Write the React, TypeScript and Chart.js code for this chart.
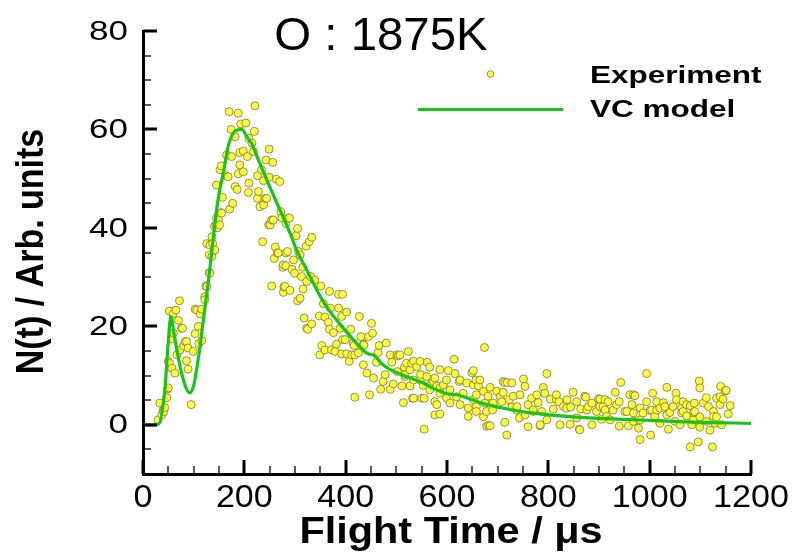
import React, { useEffect, useRef } from "react";
import { Chart, registerables } from "chart.js";

Chart.register(...registerables);

// ---------- data ----------
const TITLE = "O : 1875K";
const X_TITLE = "Flight Time / μs";
const Y_TITLE = "N(t) / Arb. units";
const LEGEND_EXP = "Experiment";
const LEGEND_MODEL = "VC model";

const X_TICKS = [0, 200, 400, 600, 800, 1000, 1200];
const Y_TICKS = [0, 20, 40, 60, 80];

// VC model curve (time in µs, N(t))
const MODEL_T = [0, 20, 30, 43, 50, 55, 62, 75, 85, 93, 100, 110, 120, 130, 147, 160, 168, 180, 195, 205, 215, 231, 250, 270, 290, 303, 323, 343, 362, 389, 415, 441, 448, 455, 470, 488, 520, 553, 570, 586, 600, 619, 630, 665, 705, 740, 777, 836, 900, 1000, 1100, 1200];
const MODEL_N = [0, 0, 0.1, 7, 17, 22, 18, 11, 7.5, 6.5, 8, 14, 22, 30, 45, 52, 56.5, 59.5, 60, 58.5, 57, 53, 48.4, 43.7, 39, 35.5, 31.5, 27.4, 24, 20.4, 17.3, 14.6, 14.3, 14.2, 12.5, 11.2, 9.8, 8.5, 7.5, 6.8, 6.3, 6.1, 5.8, 4.5, 3.5, 2.8, 2.3, 1.7, 1.3, 0.9, 0.5, 0.3];

// Experimental points [time, N(t)]
const EXP_RISE: [number, number][] = [
  [30, 1.0], [33, 4.4], [37, 2.0], [40, 3.0], [41, 2.7], [43, 3.5], [47, 5.5], [49, 7.3], [50, 7.5], [50, 12.9],
  [52, 12.5], [52, 23.1], [57, 17.4], [57, 11.5], [59, 22.5], [60, 18.6], [63, 10.5], [65, 23.3], [67, 14.2], [70, 21.2],
  [72, 25.2], [73, 15.2], [76, 19.6], [78, 19.6], [80, 16.0], [83, 16.9], [86, 16.9], [86, 13.0], [89, 15.6], [89, 11.3],
  [95, 4.1], [99, 14.9], [103, 23.5], [103, 18.5], [106, 23.3], [109, 20], [110, 16.5], [113, 22.5], [116, 23.5], [116, 17.1],
  [122, 26], [122, 25.4], [124, 28.2], [126, 28.1], [126, 36.8], [131, 34.5], [131, 30.9], [132, 30.8], [132, 36.5], [136, 34.2],
  [136, 38.2], [137.5, 36.8], [141, 40.3], [142, 35.5], [144, 40.6], [145, 42], [145, 48.7], [147, 40], [149, 41.6], [151, 40.6],
  [152, 51.8], [154, 43.1], [155, 43], [155, 52.6], [157, 46.2], [164, 50.6], [165, 54.8], [168, 50.4],
];
const EXP_PEAK: [number, number][] = [
  [170, 63.6], [171, 43.8], [174, 60], [175, 54.5], [177, 45], [182, 58.5], [182, 48.4], [186, 47.8], [188, 63.3], [188, 51],
  [191, 55.3], [191, 52.8], [193, 61.1], [198, 55.6], [198, 51.4], [203, 61.3], [206, 54.5], [208, 47.2], [209, 58.2], [209, 49.1],
  [215, 57.2], [218, 55.5], [220, 59.6], [221, 64.8], [226, 50.6], [226, 46], [228, 47.4], [231, 44.3], [234, 51.8], [236, 37.2],
  [238, 49.6], [238, 44.7], [241, 46], [243, 53.8], [244, 46], [248, 40.6], [249, 56], [249, 50.3], [251, 40.6], [254, 41.6],
  [254, 28.2], [256, 53.3], [257, 41.6], [259, 33.8], [261, 36.1], [263, 49.9], [265, 34.9], [267, 34.9], [270, 49.4], [272, 43.3],
  [274, 42], [276, 32], [277, 32.5], [277, 26.9], [278, 28], [280, 28.1], [282, 34.9], [282, 40.9], [282, 32.3], [285, 35.2],
  [287, 42], [289, 42], [290, 27.3], [294, 31.6], [297, 33.5], [299, 30.8], [302, 38.4], [305, 39.9], [305, 25.2], [307, 35.2],
  [310, 34.5], [310, 25.7], [313, 30.1], [315, 32], [316, 27.6], [318, 21.7], [322, 36.3], [323, 29.1], [323, 19.6], [325, 19.4],
  [328, 37.2], [331, 30.1], [333, 38.1], [333, 20.5], [339, 29.4],
];
const EXP_DECAY: [number, number][] = [
  [348, 22.1], [349, 14.2], [351, 28.2], [353, 16.1], [356, 24.6], [359, 21.9], [359, 15.2], [366, 20.8], [368, 27.1], [368, 19.4],
  [370, 23.7], [372, 15.2], [376, 18.7], [379, 14.9], [382, 16.4], [386, 26.5], [386, 23.7], [389, 19.6], [392, 22], [392, 14.4],
  [394, 26.5], [394, 17.3], [399, 17.3], [402, 22.9], [402, 14.4], [407, 12.9], [410, 19.4], [412, 14.2], [415, 16.6], [417, 16.1],
  [418, 14.2], [418, 5.6], [425, 14.6], [427, 22], [430, 17.9], [435, 16.4], [435, 12.2], [436, 16.2], [442, 10.5], [445, 17.9],
  [447, 6.1], [451, 20.6], [453, 18.6], [455, 9.5], [461, 12.7], [464, 14.7], [466, 16.1], [469, 7.2], [474, 8.8], [478, 10.2],
  [480, 16.6], [488, 14.2], [488, 7.2], [491, 12.7], [494, 8.3], [501, 14.2], [502, 10.8], [504, 14], [507, 14.2], [511, 7.9],
  [514, 4.5], [516, 11.7], [517, 9.8], [517, 10.2], [520, 12.5], [524, 14.9], [527, 11.2], [527, 7.9], [530, 12.5], [532, 5.4],
  [534, 12.9], [534, 9.1], [534, 5.4], [540, 11.8], [547, 12.9], [547, 9.1], [548, 10.2], [550, 5.4], [553, 8], [555, 5.4],
  [555, -0.9], [560, 9.8], [561, 12.7], [566, 11.7], [566, 7.1], [570, 8.5], [573, 8.8], [576, 9.5], [576, 4.7], [576, 2.0],
  [580, 7.9], [580, 4.1], [586, 11.2], [586, 7.5], [586, 6.4], [586, 2.2], [593, 8.1], [599, 9.1], [599, 5.4], [603, 11],
  [606, 7.1], [606, 4.4], [614, 13.3], [616, 10.4], [619, 5.7], [624, 8.8], [626, 9.1], [626, 4.1], [632, 6.4], [639, 8.5],
  [642, 3.4], [642, 1.7], [649, 10.6], [652, 11], [652, 8.1], [652, 5.1], [657, 9.1], [658, 3.7], [658, 6.1], [658, 2.7],
  [662, 7.9], [665, 9.1], [672, 6.8], [672, 1.6], [674, 15.7], [675, 4.4], [678, -0.3], [678, 2.7], [681, 5.8], [682, -0.1],
  [685, 7.6], [685, -0.2], [690, 3], [691, 4.4], [698, 6.8],
];
const EXP_TAIL: [number, number][] = [
  [705, 5.7], [708, 4.7], [711, 8.8], [711, 6.6], [714, 8.6], [714, 0.5], [718, -2.1], [719, 8.6], [723, 5.1], [728, 8.5],
  [728, 3.6], [731, 5.8], [737, 3], [738, 3.7], [743, 1.4], [744, 6.1], [751, 9.3], [754, 7.8], [754, 2.0], [760, 4.1],
  [760, -0.4], [767, 5.4], [770, 2.7], [770, 3], [777, 6.1], [780, 4.5], [784, -0.2], [784, 0], [787, 2.7], [790, 7.6],
  [793, 6.4], [797, 10.4], [797, 1], [804, 5.2], [810, 3.2], [816, 5.1], [816, 6.1], [821, 4.7], [823, 0], [830, 3.7],
  [836, 3.4], [837, 5.1], [843, 0.1], [844, 3.6], [849, 6.6], [856, 1.4], [856, 4.7], [861, -0.9], [862, -1], [864, 3.2],
  [872, 5.8], [874, 5.6], [876, 3], [879, 3.7], [886, 4.4], [886, 0], [895, 2.7], [899, 5.3], [902, 5.2], [902, 3.7],
  [905, 1.1], [908, 3.7], [912, 3], [912, 5.1], [915, 1.7], [918, 4.7], [922, 1], [928, 3], [932, 6.6], [935, 4.1],
  [940, 4.7], [940, -0.3], [943, 8.6], [951, 2.7], [955, 2.7], [958, -0.2], [961, 6.1], [965, 4.1], [968, 6.1], [968, 2.4],
  [968, 0.7], [971, 5.9], [978, -0.7], [981, -3], [981, 1], [981, 3.4], [987, 2.4], [994, 10.4], [994, 4.7], [1001, 2.9],
  [1002, -2.1], [1004, 3], [1006, 6.4], [1010, 1.7], [1014, 4.7], [1014, 3], [1020, 0.3], [1020, 3.4], [1027, 4.5], [1030, 3.7],
  [1034, 7.6], [1034, 2], [1037, -0.9], [1040, 2.5], [1046, 3.7], [1050, 0.7], [1052, 6.4], [1053, 5.1], [1060, 0], [1063, 3.4],
  [1063, 2.4], [1066, 4.7], [1066, 2.7], [1073, 1.8], [1073, 4.1], [1080, 3.9], [1080, -4.5], [1083, 0], [1086, 1], [1087, 2.5],
  [1088, 4.4], [1089, 2.7], [1096, -3.5], [1098, 8.9], [1099, 7.5], [1099, 1.6], [1099, -0.5], [1106, 4.4], [1112, 5.5], [1112, 0.7],
  [1116, 3.7], [1119, -1.1], [1124, -4.5], [1126, 2.7], [1126, 1.7], [1129, 0.3], [1132, 5.4], [1132, 1.6], [1139, 5.7], [1139, 4.1],
  [1140, 7.8], [1142, 0], [1145, 5.2], [1149, 6.9], [1151, 7], [1155, 2.2], [1159, 3.9],
];

// ---------- styling ----------
const YELLOW = "#ffff3a";
const DOT_EDGE = "#77744a";
const GREEN = "#18c418";
const SANS = "'Liberation Sans', Arial, Helvetica, sans-serif";

function drawText(
  ctx: CanvasRenderingContext2D,
  text: string,
  x: number,
  y: number,
  font: string,
  o: { sx?: number; sy?: number; rot?: number; align?: CanvasTextAlign; baseline?: CanvasTextBaseline } = {}
) {
  ctx.save();
  ctx.translate(x, y);
  if (o.rot) ctx.rotate(o.rot);
  ctx.scale(o.sx ?? 1, o.sy ?? 1);
  ctx.font = font;
  ctx.fillStyle = "#000";
  ctx.textAlign = o.align ?? "left";
  ctx.textBaseline = o.baseline ?? "alphabetic";
  ctx.fillText(text, 0, 0);
  ctx.restore();
}

const decorPlugin = {
  id: "decor",
  afterDatasetsDraw(chart: any) {
    const ctx: CanvasRenderingContext2D = chart.ctx;
    const xs = chart.scales.x;
    const ys = chart.scales.y;
    const { left, bottom } = chart.chartArea;
    ctx.save();
    ctx.strokeStyle = "#000";
    for (let v = xs.min; v <= xs.max; v += 50) {
      const major = v % 200 === 0;
      const px = Math.round(xs.getPixelForValue(v));
      ctx.lineWidth = major ? 3 : 1.3;
      ctx.beginPath();
      ctx.moveTo(px, bottom);
      ctx.lineTo(px, bottom - (major ? 14 : 8));
      ctx.stroke();
    }
    for (let v = ys.min + 5; v <= ys.max; v += 5) {
      const major = v % 20 === 0;
      const py = Math.round(ys.getPixelForValue(v));
      ctx.lineWidth = major ? 3 : 1.3;
      ctx.beginPath();
      ctx.moveTo(left, py);
      ctx.lineTo(left + (major ? 14 : 8), py);
      ctx.stroke();
    }
    ctx.restore();
  },
  afterDraw(chart: any) {
    const ctx: CanvasRenderingContext2D = chart.ctx;
    const xs = chart.scales.x;
    const ys = chart.scales.y;
    const { left, right, top, bottom } = chart.chartArea;

    for (const v of Y_TICKS) {
      drawText(ctx, String(v), 128, ys.getPixelForValue(v) + 1, `28px ${SANS}`, { sx: 1.25, align: "right", baseline: "middle" });
    }
    for (const v of X_TICKS) {
      drawText(ctx, String(v), xs.getPixelForValue(v), 498, `31px ${SANS}`, { sx: 1.1, align: "center", baseline: "middle" });
    }
    drawText(ctx, X_TITLE, (left + right) / 2 + 4, 543, `bold 37px ${SANS}`, { sx: 1.12, align: "center" });
    drawText(ctx, Y_TITLE, 43, (top + bottom) / 2 - 1, `bold 34px ${SANS}`, { sy: 1.15, rot: -Math.PI / 2, align: "center" });
    drawText(ctx, TITLE, 381, 50, `46px ${SANS}`, { sx: 1.03, align: "center" });

    const expDs = chart.data.datasets[1];
    const modDs = chart.data.datasets[0];
    ctx.save();
    ctx.beginPath();
    ctx.arc(490.5, 74, 3.3, 0, Math.PI * 2);
    ctx.fillStyle = expDs.backgroundColor;
    ctx.fill();
    ctx.lineWidth = 0.8;
    ctx.strokeStyle = expDs.borderColor;
    ctx.stroke();
    ctx.beginPath();
    ctx.moveTo(418, 109.5);
    ctx.lineTo(563, 109.5);
    ctx.lineWidth = modDs.borderWidth;
    ctx.strokeStyle = modDs.borderColor;
    ctx.stroke();
    ctx.restore();
    drawText(ctx, LEGEND_EXP, 590, 83, `bold 23px ${SANS}`, { sx: 1.37 });
    drawText(ctx, LEGEND_MODEL, 590, 117, `bold 23px ${SANS}`, { sx: 1.37 });
  },
};

export default function App() {
  const ref = useRef<HTMLCanvasElement | null>(null);

  useEffect(() => {
    if (!ref.current) return;
    const expData = [...EXP_RISE, ...EXP_PEAK, ...EXP_DECAY, ...EXP_TAIL].map(([x, y]) => ({ x, y }));
    const modelData = MODEL_T.map((t, i) => ({ x: t, y: MODEL_N[i] }));

    const chart = new Chart(ref.current, {
      type: "scatter",
      data: {
        datasets: [
          {
            label: LEGEND_MODEL,
            data: modelData,
            showLine: true,
            borderColor: GREEN,
            backgroundColor: GREEN,
            borderWidth: 3.2,
            pointRadius: 0,
            cubicInterpolationMode: "monotone",
            order: 0,
          } as any,
          {
            label: LEGEND_EXP,
            data: expData,
            backgroundColor: YELLOW,
            borderColor: DOT_EDGE,
            borderWidth: 0.8,
            pointRadius: 4,
            pointStyle: "circle",
            order: 1,
          },
        ],
      },
      options: {
        animation: false,
        responsive: false,
        devicePixelRatio: 1,
        layout: { padding: { top: 31, right: 46, left: 0, bottom: 0 } },
        plugins: {
          legend: { display: false },
          tooltip: { enabled: false },
          title: { display: false },
        },
        scales: {
          x: {
            type: "linear",
            min: 0,
            max: 1200,
            grid: { display: true, drawOnChartArea: false, drawTicks: false },
            border: { display: true, color: "#000", width: 3 },
            ticks: { display: false },
            afterBuildTicks: (s: any) => {
              s.ticks = X_TICKS.map((v) => ({ value: v }));
            },
            afterFit: (s: any) => {
              s.height = 83;
            },
          },
          y: {
            type: "linear",
            min: -10,
            max: 80,
            grid: { display: true, drawOnChartArea: false, drawTicks: false },
            border: { display: true, color: "#000", width: 3 },
            ticks: { display: false },
            afterBuildTicks: (s: any) => {
              s.ticks = Y_TICKS.map((v) => ({ value: v }));
            },
            afterFit: (s: any) => {
              s.width = 143;
            },
          },
        },
      } as any,
      plugins: [decorPlugin],
    });
    return () => chart.destroy();
  }, []);

  return (
    <div style={{ position: "absolute", left: 0, top: 0, width: 797, height: 557, background: "#fff" }}>
      <canvas ref={ref} width={797} height={557} style={{ display: "block" }} />
    </div>
  );
}
